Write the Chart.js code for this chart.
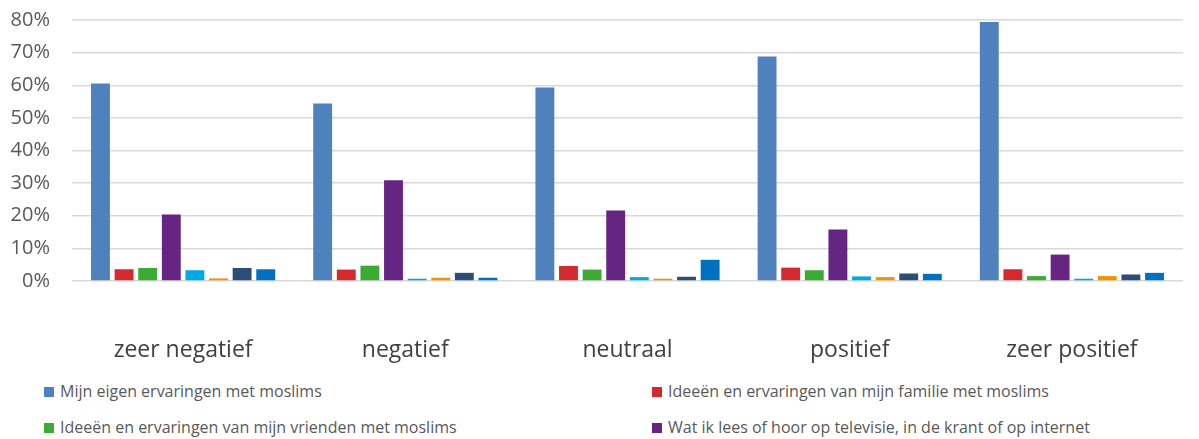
<!DOCTYPE html>
<html>
<head>
<meta charset="utf-8">
<script src="https://cdn.jsdelivr.net/npm/chart.js@4.4.1/dist/chart.umd.min.js"></script>
<style>
  body { margin: 0; background: #fff; font-family: 'Open Sans', sans-serif; overflow: hidden; }
  #wrap { position: relative; width: 1199px; height: 384px; margin-top: -14px; }
  #legend { position: relative; width: 1199px; height: 69px; }
  .item { position: absolute; font-size: 16px; color: #595959; white-space: nowrap; }
  .box { display: inline-block; width: 10px; height: 10px; margin-right: 6px; vertical-align: 0px; }
</style>
</head>
<body>
<div id="wrap"><canvas id="chart"></canvas></div>
<div id="legend"></div>
<script>
const categories = ['zeer negatief', 'negatief', 'neutraal', 'positief', 'zeer positief'];
const seriesNames = [
  'Mijn eigen ervaringen met moslims',
  'Ideeën en ervaringen van mijn familie met moslims',
  'Ideeën en ervaringen van mijn vrienden met moslims',
  'Wat ik lees of hoor op televisie, in de krant of op internet',
  'Wat ik hoor op school',
  'Wat ik lees op sociale media',
  'Anders',
  'Weet ik niet'
];
const seriesColors = ['#4F81BD', '#D32A30', '#3DAA35', '#662483', '#00A9E2', '#F29400', '#2C4D75', '#0070C0'];
const eigen     = [0.605, 0.544, 0.593, 0.688, 0.794];
const familie   = [0.036, 0.035, 0.046, 0.041, 0.036];
const vrienden  = [0.040, 0.047, 0.035, 0.033, 0.015];
const media     = [0.204, 0.309, 0.216, 0.158, 0.081];
const school    = [0.033, 0.007, 0.012, 0.014, 0.007];
const sociaal   = [0.008, 0.010, 0.007, 0.012, 0.015];
const anders    = [0.040, 0.025, 0.013, 0.023, 0.020];
const weetniet  = [0.036, 0.010, 0.065, 0.022, 0.025];
const seriesValues = [eigen, familie, vrienden, media, school, sociaal, anders, weetniet];
const yTicks = [0, 0.1, 0.2, 0.3, 0.4, 0.5, 0.6, 0.7, 0.8];

const ctx = document.getElementById('chart').getContext('2d');
const chart = new Chart(ctx, {
  type: 'bar',
  data: {
    labels: categories,
    datasets: seriesNames.map((name, i) => ({
      label: name,
      data: seriesValues[i],
      backgroundColor: seriesColors[i],
      categoryPercentage: 0.85,
      barPercentage: 0.8
    }))
  },
  options: {
    responsive: true,
    maintainAspectRatio: false,
    animation: false,
    layout: { padding: { top: 0, right: 16 } },
    plugins: { legend: { display: false }, tooltip: { enabled: false } },
    scales: {
      x: {
        grid: { display: false },
        border: { display: false },
        ticks: { color: '#404040', font: { family: 'Open Sans', size: 23 }, padding: 48 },
        afterFit: scale => { scale.height = 89; }
      },
      y: {
        min: 0,
        max: 0.8,
        afterBuildTicks: scale => { scale.ticks = yTicks.map(v => ({ value: v })); },
        grid: { color: '#D9D9D9', lineWidth: 1.5, drawTicks: false },
        border: { display: false },
        ticks: {
          color: '#595959',
          font: { family: 'Open Sans', size: 20 },
          padding: 22,
          callback: v => Math.round(v * 100) + '%'
        },
        afterFit: scale => { scale.width = 72; }
      }
    }
  }
});

// legend: only the first four series are visible in the original
const legend = document.getElementById('legend');
const spots = [[44, 10], [652, 10], [44, 46], [652, 46]];
spots.forEach((p, i) => {
  const el = document.createElement('div');
  el.className = 'item';
  el.style.left = p[0] + 'px';
  el.style.top = p[1] + 'px';
  el.innerHTML = '<span class="box" style="background:' + seriesColors[i] + '"></span>' + seriesNames[i];
  legend.appendChild(el);
});
</script>
</body>
</html>
